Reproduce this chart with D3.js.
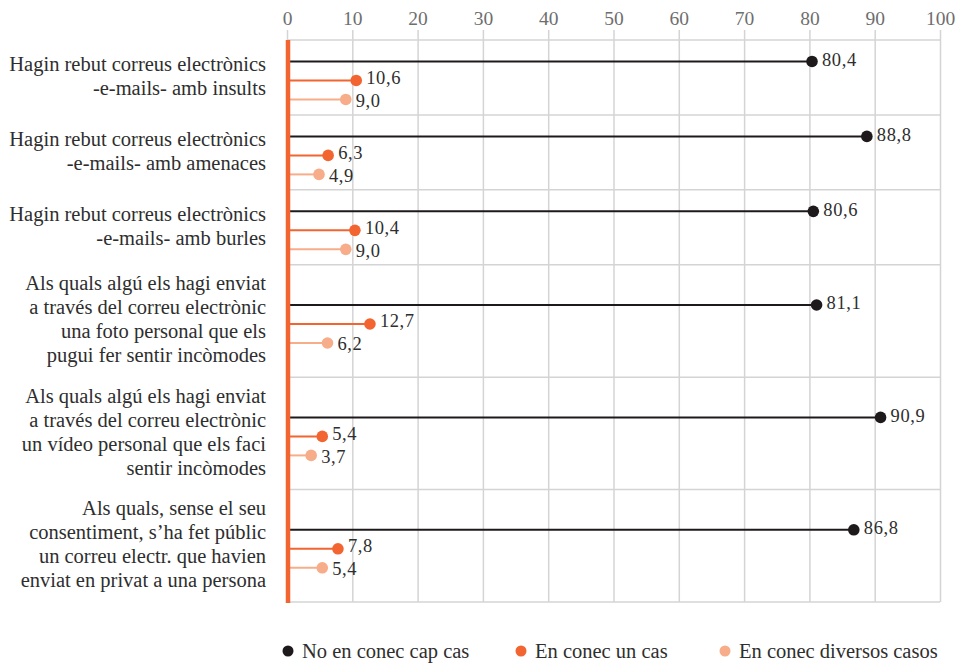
<!DOCTYPE html>
<html><head><meta charset="utf-8">
<script src="https://cdn.jsdelivr.net/npm/d3@7/dist/d3.min.js"></script>
<style>body{margin:0;background:#fff}svg{display:block}</style>
</head><body>
<svg id="c" width="964" height="664"></svg>
<script>
const categories = [
  ["Hagin rebut correus electrònics","-e-mails- amb insults"],
  ["Hagin rebut correus electrònics","-e-mails- amb amenaces"],
  ["Hagin rebut correus electrònics","-e-mails- amb burles"],
  ["Als quals algú els hagi enviat","a través del correu electrònic","una foto personal que els","pugui fer sentir incòmodes"],
  ["Als quals algú els hagi enviat","a través del correu electrònic","un vídeo personal que els faci","sentir incòmodes"],
  ["Als quals, sense el seu","consentiment, s’ha fet públic","un correu electr. que havien","enviat en privat a una persona"]
];
const seriesNames = ["No en conec cap cas","En conec un cas","En conec diversos casos"];
const noneValues = [80.4, 88.8, 80.6, 81.1, 90.9, 86.8];
const oneValues = [10.6, 6.3, 10.4, 12.7, 5.4, 7.8];
const severalValues = [9.0, 4.9, 9.0, 6.2, 3.7, 5.4];
const xTicks = [0,10,20,30,40,50,60,70,80,90,100];

const colors = ["#1e1a1b","#f26531","#f7ad8a"];
const series = [noneValues, oneValues, severalValues];
const font = "'Liberation Serif', serif";

const svg = d3.select("#c");
const pLeft = 287, pRight = 940, pTop = 40, pBottom = 602;
const x = d3.scaleLinear().domain([0,100]).range([pLeft,pRight]);

// band layout: weight per category by number of label lines
const weights = categories.map(c => c.length + 2);
const cum = [0]; weights.forEach(w => cum.push(cum[cum.length-1] + w));
const yW = d3.scaleLinear().domain([0, cum[cum.length-1]]).range([pTop, pBottom]);
const bands = categories.map((c,i) => ({y0: yW(cum[i]), y1: yW(cum[i+1])}));

// axis + vertical grid
const ax = svg.append("g").attr("transform", `translate(0,${pTop-10})`)
  .call(d3.axisTop(x).tickValues(xTicks).tickSize(-(pBottom-pTop+10)).tickPadding(5).tickFormat(d3.format("d")));
ax.select(".domain").remove();
ax.selectAll(".tick line").attr("stroke","#d4d4d4").attr("stroke-width",1.5);
ax.selectAll(".tick text").attr("fill","#6e6e6e").style("font-family",font).style("font-size","19.5px");

// horizontal separators
const seps = [pTop].concat(bands.map(b => b.y1));
svg.append("g").selectAll("line").data(seps).join("line")
  .attr("x1", pLeft).attr("x2", pRight).attr("y1", d=>d).attr("y2", d=>d)
  .attr("stroke","#d4d4d4").attr("stroke-width",1.5);

// category labels
const lh = 24;
categories.forEach((lines,i) => {
  const cy = (bands[i].y0 + bands[i].y1)/2 - 2;
  const t = svg.append("text").attr("text-anchor","end").attr("fill","#2e2e2e")
    .style("font-family",font).style("font-size","20.5px");
  lines.forEach((ln,j) => {
    t.append("tspan").attr("x",266).attr("y", cy + (j - (lines.length-1)/2)*lh).attr("dy","0.35em").text(ln);
  });
});

// lollipops
const rowOff = [-16, 3, 22];
const labOff = [-2, -3, 1];
const fmt = v => d3.format(".1f")(v).replace(".", ",");
series.forEach((vals,s) => {
  const g = svg.append("g");
  vals.forEach((v,i) => {
    const cy = (bands[i].y0 + bands[i].y1)/2 + rowOff[s];
    g.append("line").attr("x1", x(0)+3).attr("x2", x(v)).attr("y1", cy).attr("y2", cy)
      .attr("stroke", colors[s]).attr("stroke-width", 2);
    g.append("circle").attr("cx", x(v)).attr("cy", cy).attr("r", 5.8).attr("fill", colors[s]);
    g.append("text").attr("x", x(v)+10).attr("y", cy + labOff[s]).attr("dy","0.35em")
      .attr("fill","#2e2e2e").style("font-family",font).style("font-size","18.5px")
      .style("letter-spacing","0.6px").text(fmt(v));
  });
});

// orange axis bar
svg.append("line").attr("x1", x(0)+1).attr("x2", x(0)+1).attr("y1", pTop).attr("y2", pBottom+1)
  .attr("stroke","#f26531").attr("stroke-width",4.5);

// legend
const legX = [288, 521, 725];
seriesNames.forEach((n,i) => {
  svg.append("circle").attr("cx", legX[i]).attr("cy", 651).attr("r", 5.5).attr("fill", colors[i]);
  svg.append("text").attr("x", legX[i]+14).attr("y", 651).attr("dy","0.35em")
    .attr("fill","#2e2e2e").style("font-family",font).style("font-size","20.5px").text(n);
});
</script>
</body></html>
